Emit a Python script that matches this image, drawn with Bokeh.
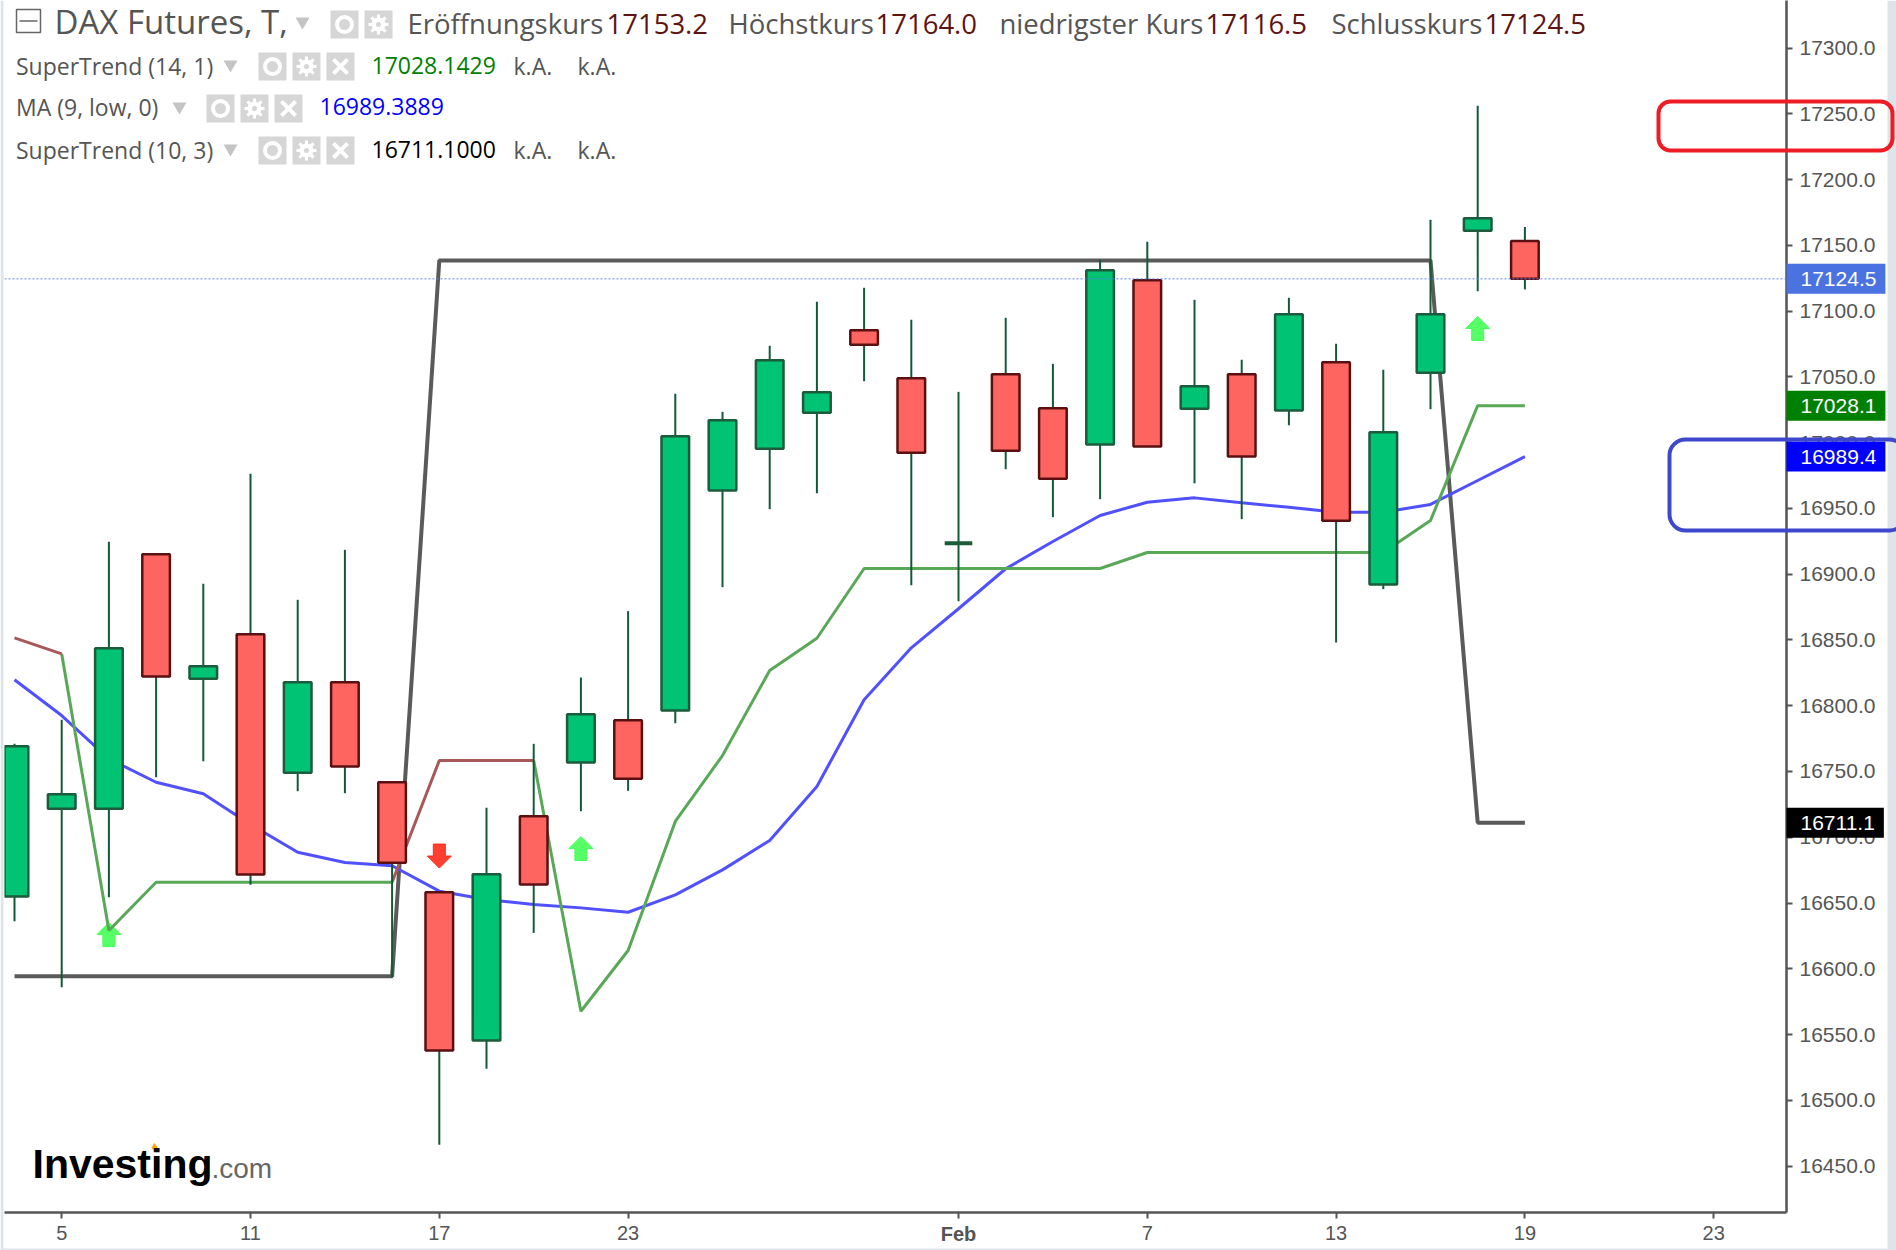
from bokeh.embed import file_html
from bokeh.resources import INLINE
from bokeh.plotting import figure
from bokeh.layouts import column
from bokeh.models import Label, Span, FixedTicker, BoxAnnotation

# ---------- data ----------
opens  = [16654.9,16721.6,16721.6,16915.2,16820.4,16854.3,16749.0,16817.9,16741.8,16658.2,16545.5,
          16716.0,16756.8,16789.0,16796.3,16963.6,16995.3,17022.7,17085.5,17049.0,16923.5,17052.0,
          17026.2,16998.6,17123.5,17025.7,17052.0,17024.4,17061.1,16892.1,17053.1,17161.0,17153.2]
highs  = [16771.0,16789.3,16924.6,16915.2,16892.7,16976.3,16880.5,16918.5,16741.8,16658.2,16722.4,
          16771.0,16821.4,16871.9,17037.1,17023.4,17073.6,17107.1,17117.7,17093.4,17038.6,17094.9,
          17059.9,17139.0,17152.7,17108.6,17063.0,17110.1,17075.1,17055.4,17169.4,17256.1,17164.0]
lows   = [16636.2,16586.0,16654.4,16745.6,16757.8,16663.8,16735.0,16733.5,16593.4,16466.2,16524.0,
          16627.3,16719.8,16735.3,16786.7,16890.1,16949.4,16961.5,17046.7,16891.6,16879.4,16979.8,
          16943.3,16957.0,16997.0,16969.1,16941.8,17013.2,16848.0,16888.6,17025.4,17115.1,17116.5]
closes = [16769.2,16732.7,16843.7,16822.2,16830.0,16671.7,16817.9,16753.8,16680.6,16537.9,16671.9,
          16664.1,16793.5,16744.4,17004.9,17017.0,17062.7,17038.3,17074.4,16992.3,16923.5,16993.8,
          16972.5,17131.1,16997.0,17042.9,16989.4,17097.6,16940.6,17007.9,17097.6,17170.6,17124.5]

st14 = [16851.6,16839.4,16629.1,16665.8,16665.8,16665.8,16665.8,16665.8,16665.8,16758.3,16758.3,
        16758.3,16567.7,16613.9,16712.0,16762.1,16826.8,16851.3,16904.3,16904.3,16904.3,16904.3,
        16904.3,16904.3,16916.5,16916.5,16916.5,16916.5,16916.5,16916.5,16940.8,17028.1,17028.1]
st14_red_ranges = [(0, 1), (8, 11)]
st14_green_ranges = [(1, 8), (11, 32)]

ma9 = [16819.7,16792.5,16759.6,16741.8,16733.0,16709.7,16688.6,16680.8,16678.3,16659.0,16652.7,
       16648.9,16646.3,16643.0,16656.2,16675.2,16697.5,16738.6,16804.5,16844.0,16873.7,16904.1,
       16924.8,16944.6,16954.7,16958.0,16954.2,16950.9,16947.1,16947.1,16953.0,16971.2,16989.4]

st10 = [16594.3]*9 + [17138.5]*22 + [16711.1]*2

up_arrows_i = [2, 12, 31]
up_arrows_v = [16626.0, 16691.4, 17086.8]
down_arrows_i = [9]
down_arrows_v = [16685.7]

y_ticks = [16450,16500,16550,16600,16650,16700,16750,16800,16850,16900,16950,17000,17050,17100,17150,17200,17250,17300]
x_ticks = [1,5,9,13,20,24,28,32,36]
x_tick_labels = ["5","11","17","23","","7","13","19","23"]

tags = [("17124.5",17124.5,"#4a72e0"),("17028.1",17028.1,"#008000"),("16989.4",16989.4,"#0000ff"),("16711.1",16711.1,"#000000")]

# ---------- layout helpers (full-image pixels) ----------
def X(px): return (px - 14) / 47.2
def Y(py): return 17300 - (py - 47.5) / 1.3154

GRAY = "#555555"
DARK = "#5f1414"
FONT = "Open Sans"

p = figure(width=1896, height=1250, frame_width=1782, frame_height=1212,
           x_range=(X(4), X(1786)), y_range=(Y(1212), Y(0)),
           output_backend="svg", toolbar_location=None,
           x_axis_location="below", y_axis_location="right",
           min_border_left=4, min_border_top=0, min_border_right=110, min_border_bottom=38,
           frame_align=False)
p.outline_line_color = None
p.grid.visible = False
p.background_fill_color = "white"
p.border_fill_color = "white"

for ax, size in ((p.yaxis[0], "21px"), (p.xaxis[0], "20px")):
    ax.axis_line_color = GRAY
    ax.axis_line_width = 2.5
    ax.major_tick_line_color = GRAY
    ax.major_tick_line_width = 2
    ax.major_tick_out = 6
    ax.major_tick_in = 0
    ax.minor_tick_line_color = None
    ax.major_label_text_color = GRAY
    ax.major_label_text_font = "Liberation Sans"
    ax.major_label_text_font_size = size
p.yaxis[0].ticker = FixedTicker(ticks=y_ticks)
p.yaxis[0].major_label_overrides = {t: f"{t:.1f}" for t in y_ticks}
p.yaxis[0].major_label_standoff = 7
p.xaxis[0].ticker = FixedTicker(ticks=x_ticks)
p.xaxis[0].major_label_overrides = dict(zip(x_ticks, x_tick_labels))
p.xaxis[0].major_label_standoff = 7

idx = list(range(len(closes)))

# arrows
def arrow(xc, yc, up, color):
    s = 1 if up else -1
    pts = [(0,-12),(12,0),(6,0),(6,12),(-6,12),(-6,0),(-12,0)]
    xs = [xc + a/47.2 for a,b in pts]
    ys = [yc - s*b/1.3154 for a,b in pts]
    p.patch(xs, ys, fill_color=color, line_color=color, fill_alpha=0.9, line_width=1)
for i, v in zip(up_arrows_i, up_arrows_v):
    arrow(i, v, True, "#44ff55")
for i, v in zip(down_arrows_i, down_arrows_v):
    arrow(i, v, False, "#ff2a1a")

# indicator lines
p.line(idx, st10, line_color="#5a5a5a", line_width=4)
p.line(idx, ma9, line_color="#5050ff", line_width=3)
for a, b in st14_green_ranges:
    p.line(idx[a:b+1], st14[a:b+1], line_color="#58a858", line_width=3)
for a, b in st14_red_ranges:
    p.line(idx[a:b+1], st14[a:b+1], line_color="#a85858", line_width=3)

# candles
WICK = "#12593a"
p.segment(idx, highs, idx, lows, line_color=WICK, line_width=2)
ups = [i for i in idx if closes[i] > opens[i]]
downs = [i for i in idx if closes[i] < opens[i]]
dojis = [i for i in idx if closes[i] == opens[i]]
p.vbar(ups, top=[closes[i] for i in ups], bottom=[opens[i] for i in ups],
       width=0.585, fill_color="#00c373", line_color="#1a5c3c", line_width=2.5)
p.vbar(downs, top=[opens[i] for i in downs], bottom=[closes[i] for i in downs],
       width=0.585, fill_color="#ff6560", line_color="#5a1010", line_width=2.5)
p.vbar(dojis, top=[opens[i] for i in dojis], bottom=[closes[i] for i in dojis],
       width=0.585, fill_color="#00c373", line_color="#1a5c3c", line_width=4)

# last-price line
p.add_layout(Span(location=closes[-1], dimension="width", line_color="#5f80f0",
                  line_width=1, line_dash=[2, 2]))

# header text
def txt(px, py, s, color=GRAY, size="23px", font=FONT, style="normal", align="left"):
    p.add_layout(Label(x=px, y=py, x_units="canvas", y_units="canvas", text=s,
                       text_color=color, text_font=font, text_font_size=size,
                       text_font_style=style, text_align=align, text_baseline="middle"))

txt(54, 21, "DAX Futures, T,", size="33px")
for px, s, c in [(407,"Eröffnungskurs",GRAY),(606,"17153.2",DARK),(728,"Höchstkurs",GRAY),(875,"17164.0",DARK),
                 (999,"niedrigster Kurs",GRAY),(1205,"17116.5",DARK),(1331,"Schlusskurs",GRAY),(1484,"17124.5",DARK)]:
    txt(px, 23, s, color=c, size="27.5px")

rows = [("SuperTrend (14, 1)", 65, 66, 222, 258, 371, "17028.1429", "#008000", True),
        ("MA (9, low, 0)", 106, 108, 171, 206, 319, "16989.3889", "#0000ff", False),
        ("SuperTrend (10, 3)", 149, 150, 222, 258, 371, "16711.1000", "#000000", True)]

def btn(px, cy, kind):
    p.quad(left=[X(px)], right=[X(px+28)], top=[Y(cy-14)], bottom=[Y(cy+14)], fill_color="#d6d6d6", line_color=None)
    cx_, cy_ = X(px+14), Y(cy)
    if kind == "eye":
        p.scatter([cx_], [cy_], marker="circle", size=15, fill_color=None, line_color="white", line_width=4)
    elif kind == "gear":
        p.scatter([cx_], [cy_], marker="circle", size=14, fill_color="white", line_color=None)
        p.scatter([cx_], [cy_], marker="asterisk", size=20, line_color="white", line_width=3)
        p.scatter([cx_], [cy_], marker="circle", size=5, fill_color="#d6d6d6", line_color=None)
    else:
        p.scatter([cx_], [cy_], marker="x", size=20, line_color="white", line_width=4)

def tri(px, cy):
    p.scatter([X(px)], [Y(cy)], marker="inverted_triangle", size=14, fill_color="#c4c4c4", line_color=None)

# title row icons
p.quad(left=[X(16)], right=[X(40)], top=[Y(9)], bottom=[Y(32)], fill_color=None, line_color="#666666", line_width=1.5)
p.segment([X(19)], [Y(20.5)], [X(37)], [Y(20.5)], line_color="#666666", line_width=1.5)
tri(302, 21)
btn(330, 24, "eye")
btn(364, 24, "gear")

for name, ty, by, tx, bx, vx, val, col, extra in rows:
    txt(15.5, ty, name)
    tri(tx + 8, by - 2)
    btn(bx, by, "eye")
    btn(bx + 34, by, "gear")
    btn(bx + 68, by, "x")
    txt(vx, ty, val, color=col)
    if extra:
        txt(513, ty, "k.A.")
        txt(577, ty, "k.A.")

# logo
txt(32, 1163, "Investing", color="#000000", size="41px", font="Liberation Sans", style="bold")
txt(211, 1168, ".com", color="#666666", size="28px", font="Liberation Sans")
p.scatter([X(154)], [Y(1147)], marker="diamond", size=9, fill_color="#ffa500", line_color=None)

# ---------- transparent overlay covering the whole picture ----------
top = figure(width=1896, height=1250, x_range=(X(0), X(1896)), y_range=(Y(1250), Y(0)),
             output_backend="svg", toolbar_location=None,
             x_axis_location=None, y_axis_location=None,
             min_border_left=0, min_border_top=0, min_border_right=0, min_border_bottom=0,
             frame_align=False,
             styles={"position": "absolute", "left": "0px", "top": "0px"})
top.outline_line_color = None
top.grid.visible = False
top.background_fill_color = None
top.border_fill_color = None

# bold month label
top.add_layout(Label(x=x_ticks[4], y=Y(1233), text="Feb", text_color=GRAY, text_font="Liberation Sans",
                     text_font_size="20px", text_font_style="bold", text_align="center", text_baseline="middle"))

# last-value tags on the price axis
for s, v, c in tags:
    top.add_layout(Label(x=X(1786), y=v, text=s,
                         text_color="white", text_font="Liberation Sans", text_font_size="21px",
                         text_align="left", text_baseline="middle",
                         background_fill_color=c, padding=dict(left=14, right=9, top=8, bottom=8)))

# hand-drawn marks and screenshot edges
def mark(left, t, right, b, color, radius):
    top.add_layout(BoxAnnotation(left=X(left), right=X(right), top=Y(t), bottom=Y(b),
                                 fill_alpha=0, line_color=color, line_alpha=1, line_width=4,
                                 border_radius=radius, level="overlay"))
mark(1658, 101, 1892, 150, "#ee1c25", 12)
mark(1669, 439, 1905, 530, "#3f48cc", 16)
for l, t, r, b in [(0, 0, 3, 1250), (1887, 0, 1896, 1250), (0, 1248, 1896, 1250)]:
    top.quad(left=[X(l)], right=[X(r)], top=[Y(t)], bottom=[Y(b)], fill_color="#dfe3ea", line_color=None)

open("out.html", "w").write(file_html(column(p, top), INLINE))
